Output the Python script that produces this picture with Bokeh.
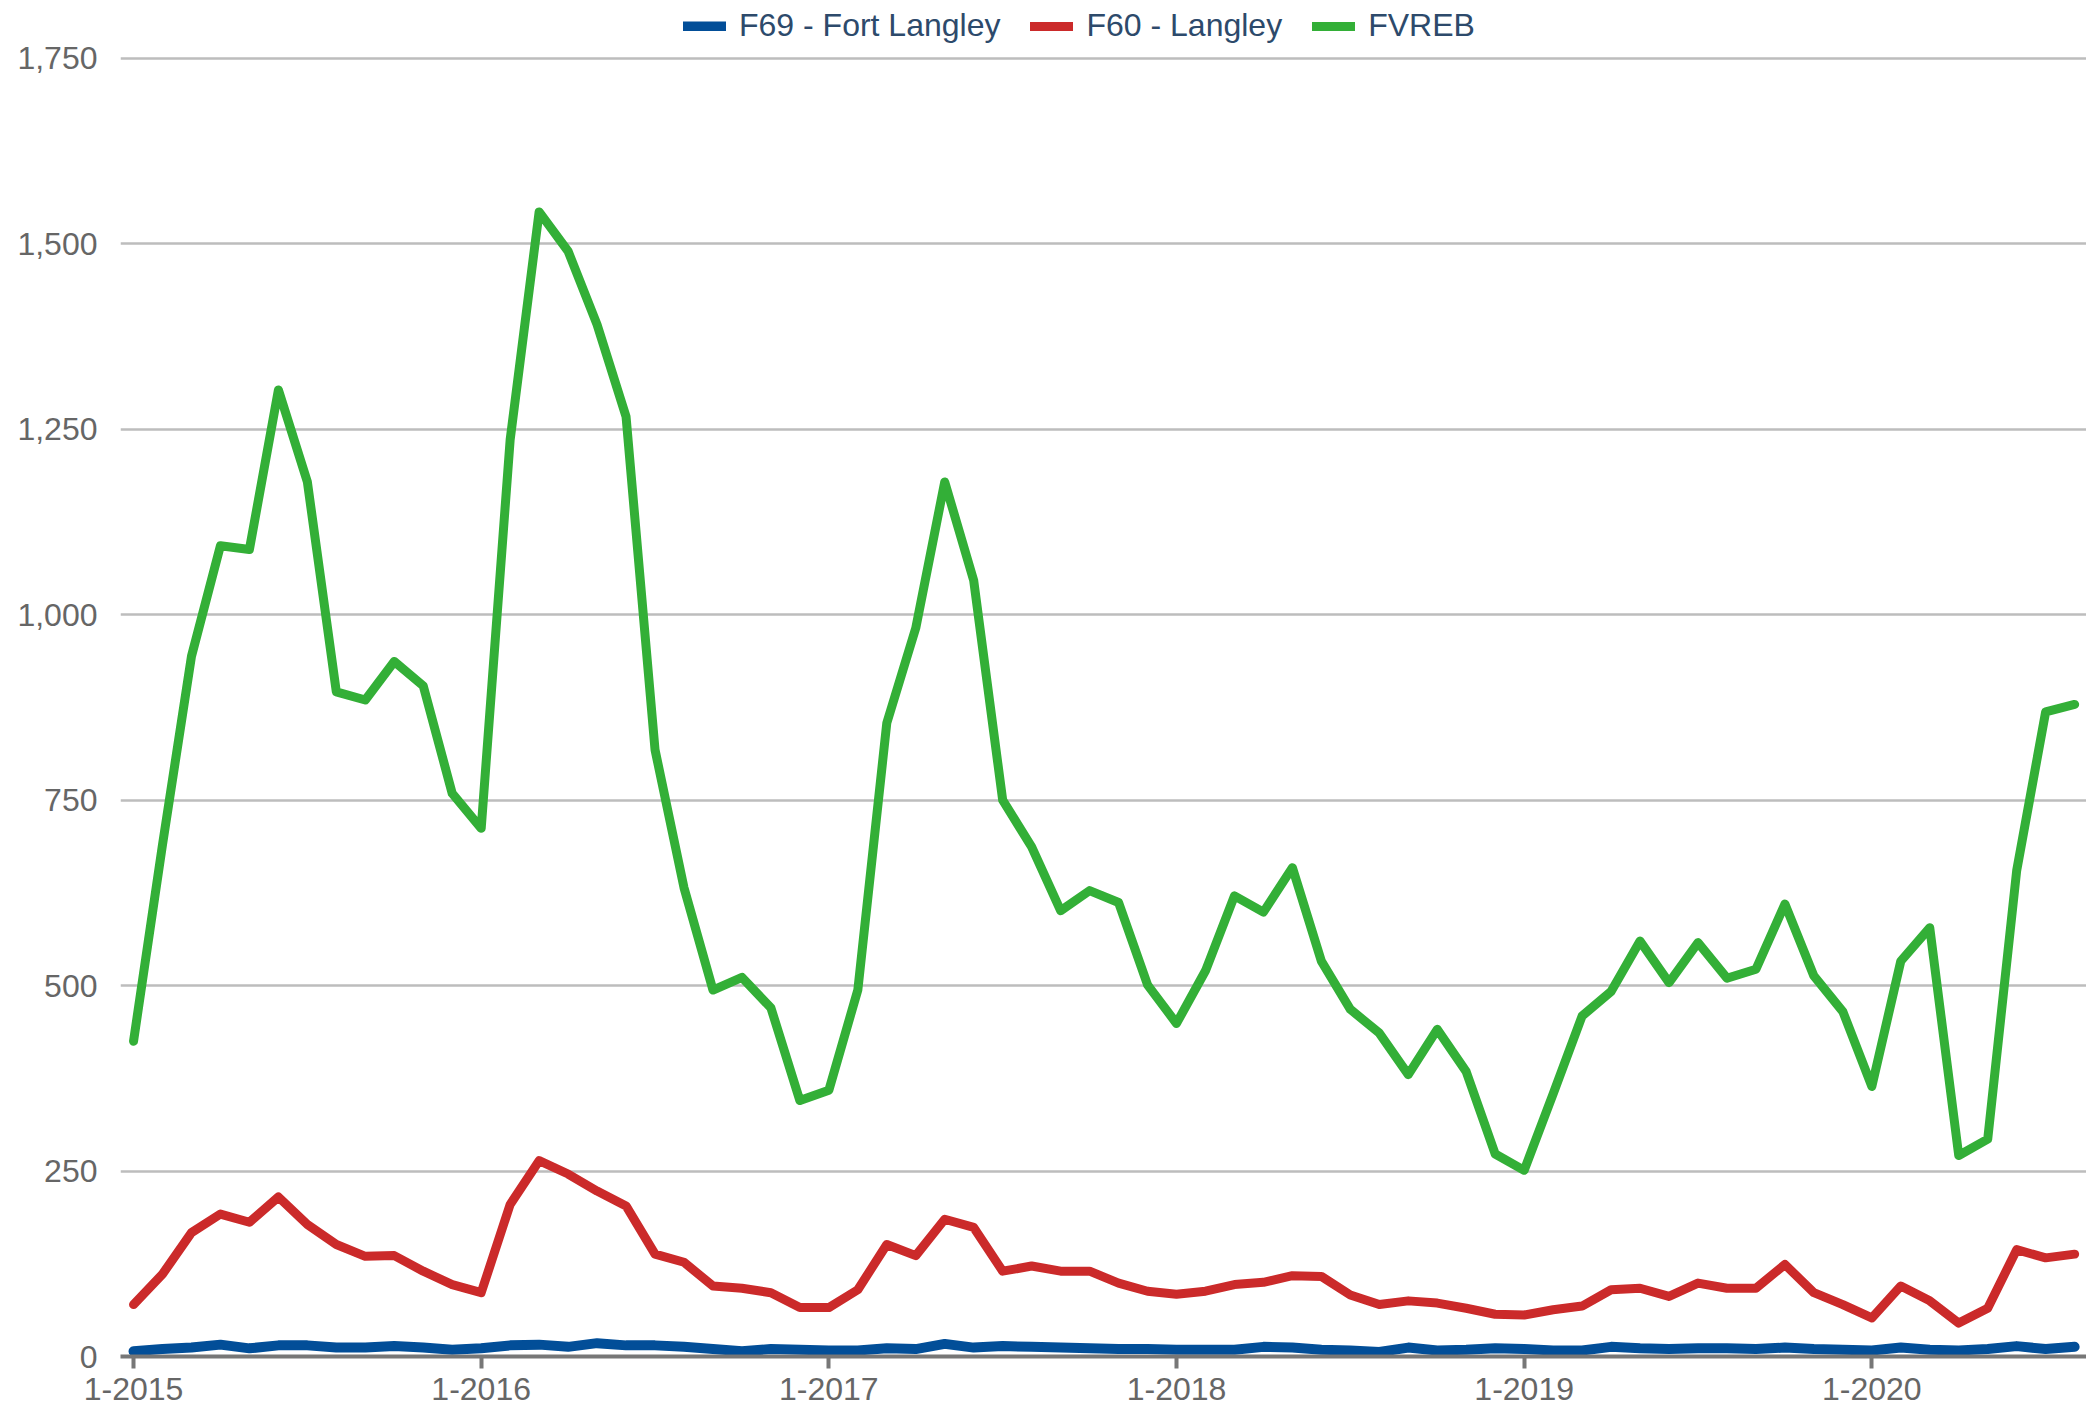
from bokeh.plotting import figure
from bokeh.models import ColumnDataSource, Range1d, FixedTicker, NumeralTickFormatter, Legend, LegendItem
from bokeh.embed import file_html
from bokeh.resources import INLINE

years = [2015, 2016, 2017, 2018, 2019, 2020]
months = [f"{m}-{y}" for y in years for m in range(1, 13)][:68]

f69_fort_langley = [7, 10, 12, 16, 11, 15, 15, 12, 12, 14,
                    12, 9, 11, 15, 16, 13, 18, 15, 15, 13,
                    10, 7, 10, 9, 8, 8, 11, 10, 17, 12,
                    14, 13, 12, 11, 10, 10, 9, 9, 9, 13,
                    12, 9, 8, 6, 12, 8, 9, 11, 10, 8,
                    8, 13, 11, 10, 11, 11, 10, 12, 10, 9,
                    8, 12, 9, 8, 10, 14, 10, 13]

f60_langley = [70, 111, 167, 192, 181, 215, 178, 151, 135, 136,
               115, 97, 86, 205, 264, 246, 223, 203, 138, 127,
               95, 92, 86, 66, 66, 90, 151, 136, 185, 174,
               115, 122, 115, 115, 99, 88, 84, 88, 97, 100,
               109, 108, 83, 70, 75, 72, 65, 57, 56, 63,
               68, 90, 92, 81, 99, 92, 92, 124, 86, 70,
               52, 95, 75, 45, 65, 144, 133, 138]

fvreb = [425, 690, 944, 1093, 1088, 1303, 1179, 896, 885, 937,
         904, 759, 712, 1236, 1543, 1490, 1391, 1267, 818, 632,
         494, 511, 470, 345, 359, 494, 854, 982, 1179, 1046,
         750, 687, 601, 628, 612, 501, 449, 520, 621, 599,
         659, 533, 468, 436, 380, 441, 384, 273, 251, 354,
         459, 492, 560, 504, 558, 510, 522, 610, 513, 465,
         364, 533, 578, 271, 293, 655, 869, 879]

x_tick_labels = ["1-2015", "1-2016", "1-2017", "1-2018", "1-2019", "1-2020"]
y_ticks = [0, 250, 500, 750, 1000, 1250, 1500, 1750]

series_names = ["F69 - Fort Langley", "F60 - Langley", "FVREB"]
series_colors = ["#024E98", "#CB2A2A", "#33AF37"]

idx = list(range(len(months)))
src = ColumnDataSource(dict(x=idx, f69=f69_fort_langley, f60=f60_langley, fvreb=fvreb))

FONT = "Liberation Sans"

# frame spans the full height down to the axis; headroom above 1,750 holds the legend
p = figure(width=2086, height=1413, output_backend="svg", toolbar_location=None,
           x_range=Range1d(-0.45, 67.41), y_range=Range1d(0, 1828),
           min_border_left=120, min_border_right=0, min_border_top=0, min_border_bottom=57)
p.outline_line_color = None
p.background_fill_color = "white"
p.border_fill_color = "white"

r_green = p.line("x", "fvreb", source=src, line_color=series_colors[2], line_width=9,
                 line_join="round", line_cap="round")
r_red = p.line("x", "f60", source=src, line_color=series_colors[1], line_width=9,
               line_join="round", line_cap="round")
r_blue = p.line("x", "f69", source=src, line_color=series_colors[0], line_width=10,
                line_join="round", line_cap="round")

# y axis
p.yaxis.ticker = FixedTicker(ticks=y_ticks)
p.yaxis.formatter = NumeralTickFormatter(format="0,0")
p.yaxis.axis_line_color = None
p.yaxis.major_tick_line_color = None
p.yaxis.minor_tick_line_color = None
p.yaxis.major_tick_out = 0
p.yaxis.major_tick_in = 0
p.yaxis.major_label_standoff = 23
p.yaxis.major_label_text_font = FONT
p.yaxis.major_label_text_font_size = "32px"
p.yaxis.major_label_text_color = "#666666"

# x axis
tick_pos = [months.index(t) for t in x_tick_labels]
p.xaxis.ticker = FixedTicker(ticks=tick_pos)
p.xaxis.major_label_overrides = {pos: lab for pos, lab in zip(tick_pos, x_tick_labels)}
p.xaxis.axis_line_color = "#777777"
p.xaxis.axis_line_width = 4
p.xaxis.major_tick_line_color = "#777777"
p.xaxis.major_tick_line_width = 4
p.xaxis.major_tick_out = 12
p.xaxis.major_tick_in = 0
p.xaxis.minor_tick_line_color = None
p.xaxis.major_label_standoff = 9
p.xaxis.major_label_text_font = FONT
p.xaxis.major_label_text_font_size = "32px"
p.xaxis.major_label_text_color = "#666666"

p.xgrid.visible = False
p.ygrid.grid_line_color = "#BDBDBD"
p.ygrid.grid_line_width = 2.5

legend = Legend(items=[LegendItem(label=series_names[0], renderers=[r_blue]),
                       LegendItem(label=series_names[1], renderers=[r_red]),
                       LegendItem(label=series_names[2], renderers=[r_green])],
                location=(563, 1312), orientation="horizontal",
                padding=0, margin=0, spacing=30, label_standoff=13,
                glyph_width=43, glyph_height=10,
                label_text_font=FONT, label_text_font_size="32px",
                label_text_color="#2D4A6B",
                background_fill_alpha=0, border_line_color=None)
p.add_layout(legend)

open("out.html", "w").write(file_html(p, INLINE))
